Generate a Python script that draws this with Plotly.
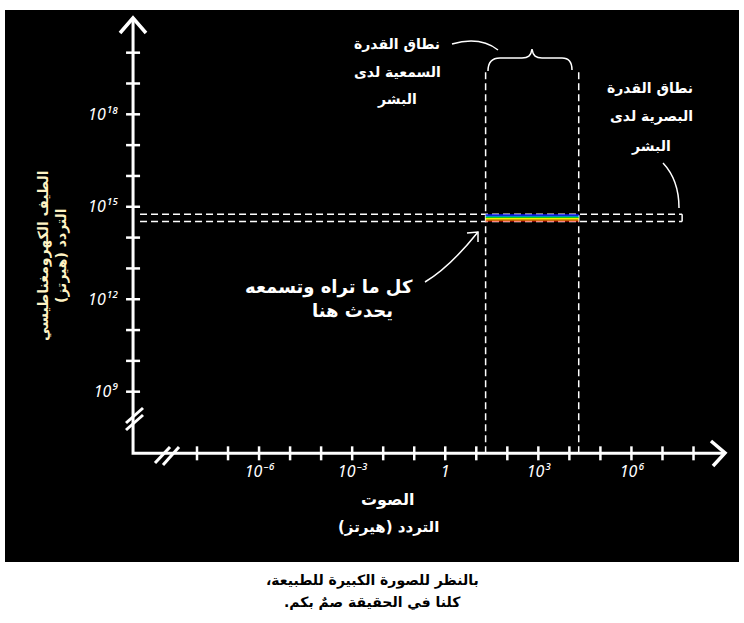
import math
import plotly.graph_objects as go

# ---------------- data ----------------
sound_tick_hz = [1e-8, 1e-7, 1e-6, 1e-5, 1e-4, 1e-3, 1e-2, 1e-1, 1,
                 1e1, 1e2, 1e3, 1e4, 1e5, 1e6, 1e7, 1e8]
sound_label_hz = [1e-6, 1e-3, 1, 1e3, 1e6]
sound_label_text = ["10⁻⁶", "10⁻³", "1", "10³", "10⁶"]

em_tick_hz = [1e9, 1e10, 1e11, 1e12, 1e13, 1e14, 1e15, 1e16,
              1e17, 1e18, 1e19, 1e20]
em_label_hz = [1e9, 1e12, 1e15, 1e18]
em_label_text = ["10⁹", "10¹²", "10¹⁵", "10¹⁸"]

hearing_range_hz = [20, 20000]          # human hearing (sound axis)
vision_range_hz = [3.3e14, 5.7e14]      # human vision (EM axis)

# ---------------- layout / style constants ----------------
W, H = 744, 623
PL, PR, PT, PB = 5, 739, 10, 562        # black plotting area in pixels
X_RANGE = [-14.187, 9.466]              # log10 Hz
Y_RANGE = [3.474, 21.385]               # log10 Hz

X_AXIS_AT_EM = 1.0e7                    # EM level where sound axis is drawn
Y_AXIS_AT_SOUND = 8.7e-11               # sound level where EM axis is drawn
X_TIP = 1.0e9
Y_TIP = 1.33e21
DASH_TOP_EM = 2.7e19
HDASH_START = 1.46e-10
HDASH_END = 4.3e7

spectrum_colors = ["#ff1000", "#ffb000", "#f0f000", "#10d010",
                   "#00b0ff", "#1010ff"]   # bottom -> top

WHITE = "white"
AR_FONT = "DejaVu Sans"
TICK_FONT = "Noto Sans, DejaVu Sans"
DASH = "7px,4px"
RLM = "\u200f"


def to_paper(x, y):
    return (x - PL) / (PR - PL), (PB - y) / (PB - PT)


def svg(segments):
    out = []
    for cmd, pts in segments:
        out.append(cmd + " ".join("%.5f,%.5f" % to_paper(px, py) for px, py in pts))
    return " ".join(out)


fig = go.Figure()

# human vision band: dashed guide lines
for v in vision_range_hz:
    fig.add_trace(go.Scatter(x=[HDASH_START, HDASH_END], y=[v, v], mode="lines",
                             line=dict(color=WHITE, width=1.5, dash=DASH),
                             hoverinfo="skip"))
fig.add_trace(go.Scatter(x=[HDASH_END, HDASH_END], y=vision_range_hz, mode="lines",
                         line=dict(color=WHITE, width=1.5), hoverinfo="skip"))

# human hearing: dashed vertical guides
for f in hearing_range_hz:
    fig.add_trace(go.Scatter(x=[f, f], y=[X_AXIS_AT_EM, DASH_TOP_EM], mode="lines",
                             line=dict(color=WHITE, width=1.5, dash=DASH),
                             hoverinfo="skip"))

# rainbow: what we see AND hear
lo, hi = vision_range_hz
n = len(spectrum_colors)
for i, c in enumerate(spectrum_colors):
    y0 = lo * (hi / lo) ** (i / n)
    y1 = lo * (hi / lo) ** ((i + 1) / n)
    x0, x1 = hearing_range_hz
    fig.add_trace(go.Scatter(x=[x0, x1, x1, x0, x0], y=[y0, y0, y1, y1, y0],
                             mode="lines", fill="toself", fillcolor=c,
                             line=dict(width=0, color=c), hoverinfo="skip"))

# hand-drawn axes (L shape)
fig.add_trace(go.Scatter(x=[Y_AXIS_AT_SOUND, Y_AXIS_AT_SOUND, X_TIP],
                         y=[Y_TIP, X_AXIS_AT_EM, X_AXIS_AT_EM], mode="lines",
                         line=dict(color=WHITE, width=3), hoverinfo="skip"))

# tick marks on the hand-drawn axes
fig.add_trace(go.Scatter(x=sound_tick_hz, y=[X_AXIS_AT_EM] * len(sound_tick_hz),
                         mode="markers", hoverinfo="skip",
                         marker=dict(symbol="line-ns", size=10,
                                     line=dict(width=2.5, color=WHITE))))
fig.add_trace(go.Scatter(x=[Y_AXIS_AT_SOUND] * len(em_tick_hz), y=em_tick_hz,
                         mode="markers", hoverinfo="skip",
                         marker=dict(symbol="line-ew", size=10,
                                     line=dict(width=2.5, color=WHITE))))


def label(text, px, py, size=14, color=WHITE, angle=0):
    xp, yp = to_paper(px, py)
    lines = text.split("<br>")
    text = "<br>".join(RLM + t + RLM for t in lines)
    return dict(x=xp, y=yp, xref="paper", yref="paper", text=text, showarrow=False,
                xanchor="center", yanchor="middle", textangle=angle,
                font=dict(family=AR_FONT, size=size, color=color, weight="bold"))


annotations = [
    label("نطاق القدرة", 397, 44),
    label("السمعية لدى", 397, 72),
    label("البشر", 397, 100),
    label("نطاق القدرة", 650, 88),
    label("البصرية لدى", 651, 117),
    label("البشر", 651, 146),
    label("كل ما تراه وتسمعه", 329, 287, size=18),
    label("يحدث هنا", 352, 310, size=18),
    label("الصوت", 387, 500, size=16),
    label("التردد (هيرتز)", 388, 527, size=15),
    label("الطيف الكهرومغناطيسي<br>التردد (هيرتز)", 52, 256,
          color="#fff3c4", angle=-90),
    label("بالنظر للصورة الكبيرة للطبيعة،", 372, 580, size=14, color="black"),
    label("كلنا في الحقيقة صمٌ بكم.", 372, 602, size=14, color="black"),
]

shape_line = dict(color=WHITE, width=1.5)
shapes = [
    # axis arrow heads
    dict(type="path", xref="paper", yref="paper", line=dict(color=WHITE, width=3.5),
         path=svg([("M", [(120, 33)]), ("L", [(133, 18)]), ("L", [(146, 33)])])),
    dict(type="path", xref="paper", yref="paper", line=dict(color=WHITE, width=3.5),
         path=svg([("M", [(711, 441)]), ("L", [(725, 453)]), ("L", [(713, 466)])])),
    # curly brace over hearing range
    dict(type="path", xref="paper", yref="paper", line=shape_line,
         path=svg([("M", [(488, 71)]), ("C", [(488, 62), (492, 58), (500, 58)]),
                   ("L", [(522, 58)]), ("C", [(528, 58), (531, 56), (532, 49)]),
                   ("C", [(533, 56), (536, 58), (542, 58)]), ("L", [(562, 58)]),
                   ("C", [(569, 58), (572, 62), (572, 70)])])),
    # leader from hearing label
    dict(type="path", xref="paper", yref="paper", line=shape_line,
         path=svg([("M", [(452, 44)]), ("Q", [(480, 36), (498, 50)])])),
    # leader from vision label
    dict(type="path", xref="paper", yref="paper", line=shape_line,
         path=svg([("M", [(663, 163)]), ("Q", [(679, 180), (679, 208)])])),
    # curved arrow to the rainbow
    dict(type="path", xref="paper", yref="paper", line=shape_line,
         path=svg([("M", [(425, 282)]), ("C", [(445, 270), (462, 252), (478, 232)])])),
    dict(type="path", xref="paper", yref="paper", line=shape_line,
         path=svg([("M", [(467, 233)]), ("L", [(478, 232)]), ("L", [(478, 242)])])),
]
# axis break marks
for (x0, y0, x1, y1) in [(126, 423, 143, 408), (126, 430, 143, 415),
                         (155, 463, 170, 447), (163, 465, 179, 447)]:
    a, b = to_paper(x0, y0)
    c, d = to_paper(x1, y1)
    shapes.append(dict(type="line", xref="paper", yref="paper", x0=a, y0=b, x1=c, y1=d,
                       line=dict(color=WHITE, width=3)))

tickfont = dict(family=TICK_FONT, size=16, color=WHITE, style="italic")
fig.update_layout(
    width=W, height=H,
    margin=dict(l=PL, r=W - PR, t=PT, b=H - PB, pad=0),
    paper_bgcolor="white", plot_bgcolor="black", showlegend=False,
    xaxis=dict(type="log", range=X_RANGE, showgrid=False, zeroline=False,
               showline=False, anchor="free",
               position=(PB - 453) / (PB - PT),
               tickmode="array", tickvals=sound_label_hz, ticktext=sound_label_text,
               ticks="", tickfont=tickfont, ticklabelstandoff=7, fixedrange=True),
    yaxis=dict(type="log", range=Y_RANGE, showgrid=False, zeroline=False,
               showline=False, anchor="free",
               position=(133 - PL) / (PR - PL),
               tickmode="array", tickvals=em_label_hz, ticktext=em_label_text,
               ticks="", tickfont=tickfont, ticklabelstandoff=16, fixedrange=True),
    annotations=annotations,
    shapes=shapes,
)

fig.write_html("out.html", config={"displayModeBar": False},
               post_script="document.body.style.margin='0';document.body.style.overflow='hidden';")
